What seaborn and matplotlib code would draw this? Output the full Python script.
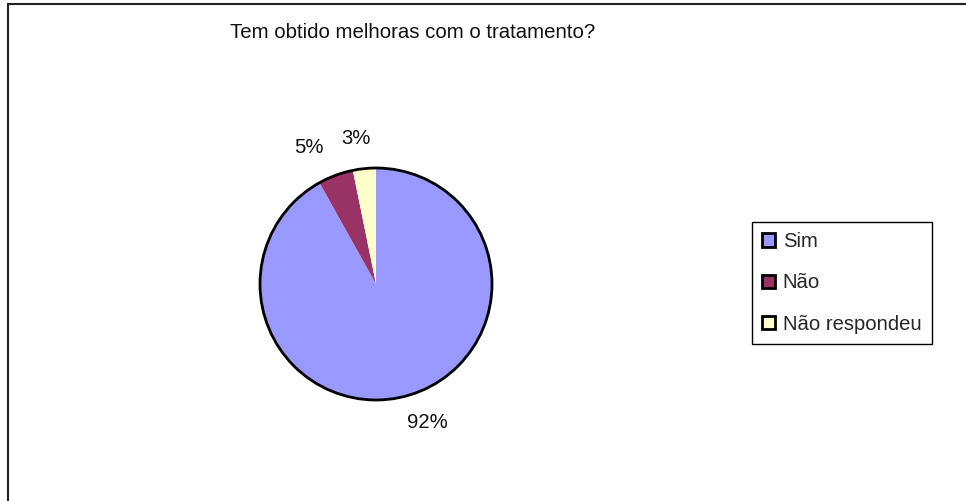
import matplotlib
matplotlib.use("Agg")
import matplotlib.pyplot as plt
import seaborn as sns
from matplotlib.patches import Circle, Patch
from matplotlib.lines import Line2D

categories = ["Sim", "Não", "Não respondeu"]
values = [91.9, 4.9, 3.2]
colors = ["#9999FF", "#993366", "#FFFFCC"]
title = "Tem obtido melhoras com o tratamento?"

sns.set_theme(style="white")
plt.rcParams["font.family"] = ["Liberation Sans", "DejaVu Sans"]

W, H = 966, 501
fig = plt.figure(figsize=(W / 100, H / 100), dpi=100)
fig.patch.set_facecolor("white")

cx, cy, r = 376, 284, 116
ax = fig.add_axes([(cx - r) / W, (H - cy - r) / H, 2 * r / W, 2 * r / H])
wedges, texts, autotexts = ax.pie(
    values, colors=colors, startangle=90, counterclock=False,
    autopct=lambda p: f"{p:.0f}%", pctdistance=1.27,
    wedgeprops=dict(linewidth=0), textprops=dict(fontsize=14.6, color="#111111"),
)
# label placement offsets (Excel-like outside labels)
label_pos = [(0.44, -1.19), (-0.58, 1.18), (-0.17, 1.25)]
for t, p in zip(autotexts, label_pos):
    t.set_position(p)
    t.set_clip_on(False)
for w in wedges:
    w.set_clip_on(False)
circ = Circle((0, 0), 1, fill=False, edgecolor="black", linewidth=2, zorder=5)
circ.set_clip_on(False)
ax.add_patch(circ)
ax.set_xlim(-1, 1)
ax.set_ylim(-1, 1)
ax.set_aspect("equal")
ax.axis("off")

fig.text(413 / W, 1 - 33 / H, title, ha="center", va="center", fontsize=14.7, color="#111111")

handles = [Patch(facecolor=c, edgecolor="black", linewidth=2) for c in colors]
leg = fig.legend(handles, categories, loc="upper left",
                 bbox_to_anchor=(752 / W, 1 - 222 / H), bbox_transform=fig.transFigure,
                 fontsize=14.6, frameon=True, fancybox=False, framealpha=1,
                 edgecolor="black", handlelength=0.62, handleheight=0.62,
                 handletextpad=0.4, labelspacing=1.1, borderpad=0.5, borderaxespad=0)
leg.get_frame().set_linewidth(1)

fig.add_artist(Line2D([7.5 / W, 1], [1 - 3.5 / H, 1 - 3.5 / H], transform=fig.transFigure, color="#222222", linewidth=1.5))
fig.add_artist(Line2D([7.5 / W, 7.5 / W], [0, 1 - 3.5 / H], transform=fig.transFigure, color="#222222", linewidth=1.5))

fig.savefig("out.png", dpi=100, facecolor="white")
